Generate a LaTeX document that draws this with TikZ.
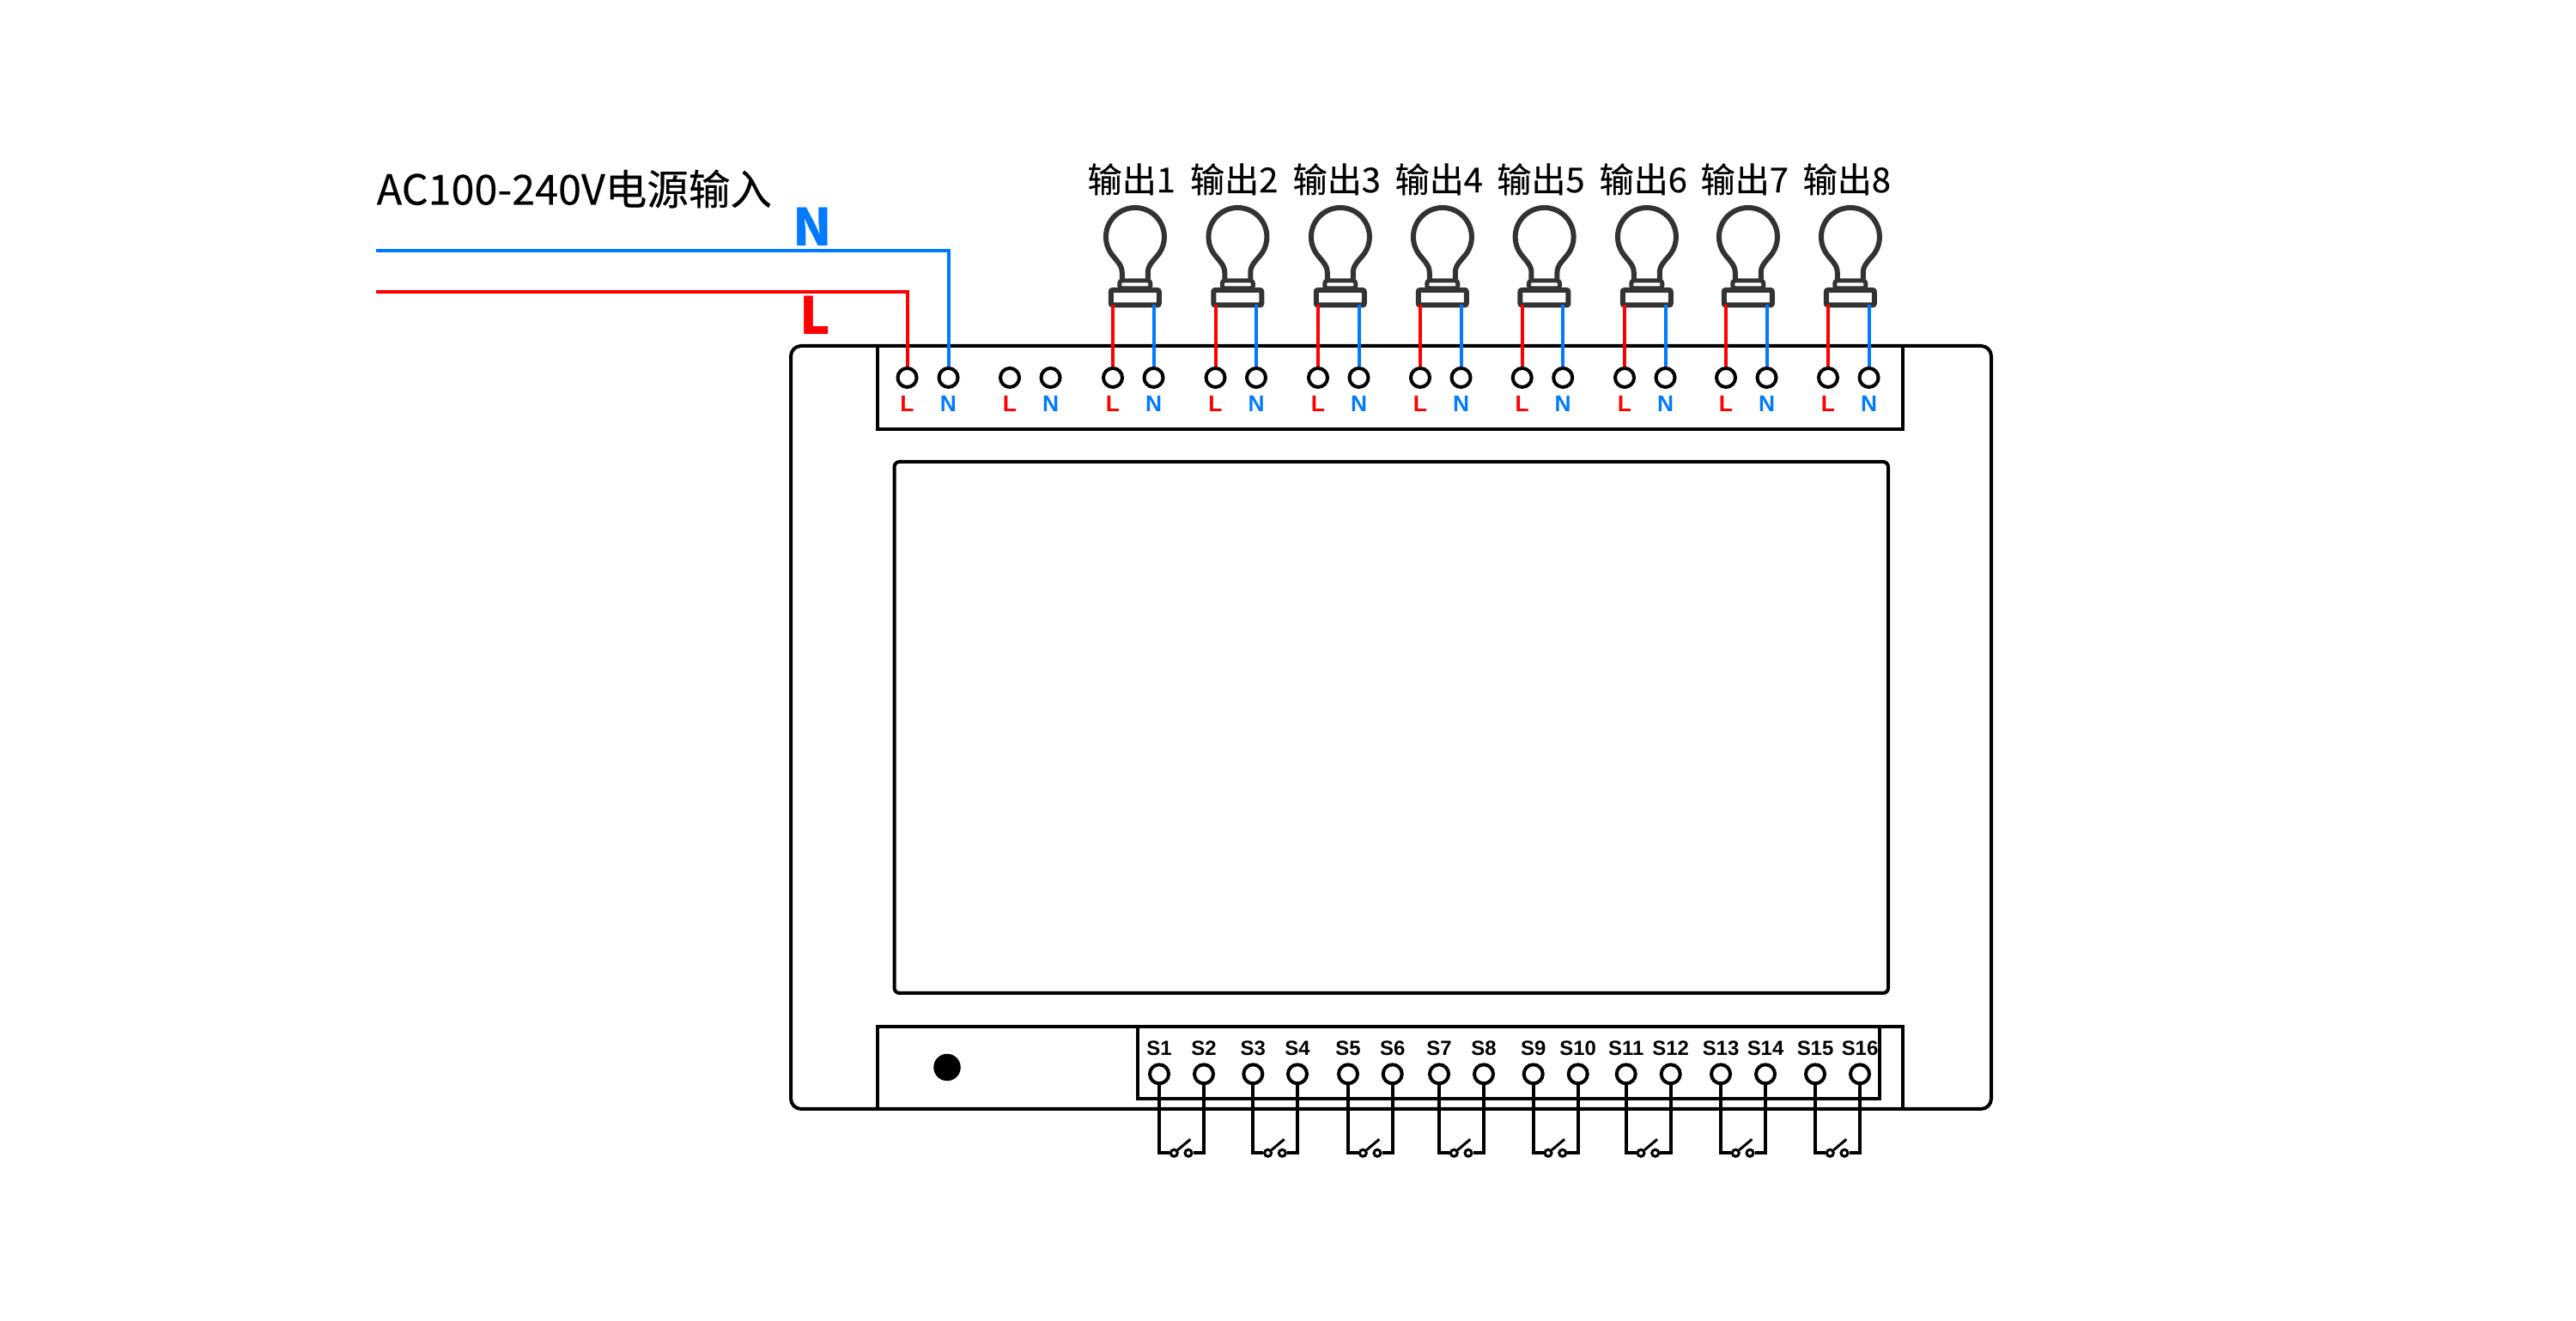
\documentclass[tikz,border=0pt]{standalone}
\usepackage{fontspec}
\setmainfont{Noto Sans CJK SC}
\newfontfamily\labelfont[FakeBold=0.25]{Noto Sans CJK SC}
\newfontfamily\arialfont{Liberation Sans}
\usetikzlibrary{positioning,calc}
\definecolor{wireblue}{RGB}{0,122,255}
\definecolor{wirered}{RGB}{255,0,0}
\definecolor{bulbgray}{RGB}{51,51,51}
\tikzset{
  box/.style={draw, line width=0.04cm},
  wire/.style={line width=0.04cm},
  term/.style={circle, draw, line width=0.04cm, minimum size=0.22cm, inner sep=0pt, fill=white},
  contact/.style={circle, draw, line width=0.03cm, minimum size=0.08cm, inner sep=0pt, fill=white},
  redlbl/.style={text=wirered, font=\arialfont\fontsize{7.5}{8}\selectfont\bfseries, inner sep=0pt},
  bluelbl/.style={text=wireblue, font=\arialfont\fontsize{7.5}{8}\selectfont\bfseries, inner sep=0pt},
  slbl/.style={font=\arialfont\fontsize{6.8}{7}\selectfont\bfseries, inner sep=0pt},
  outlbl/.style={font=\labelfont\fontsize{11.4}{12}\selectfont, inner sep=0pt},
  bulb/.pic={
    \draw[bulbgray, line width=0.06cm] (-0.15,0.30) -- (-0.15,0.38) .. controls (-0.15,0.47) and (-0.22,0.52) .. (-0.28,0.605)
      arc[start angle=214, end angle=-34, radius=0.34]
      .. controls (0.22,0.52) and (0.15,0.47) .. (0.15,0.38) -- (0.15,0.30);
    \draw[bulbgray, line width=0.05cm, rounded corners=0.03cm] (-0.18,0.195) rectangle (0.18,0.285);
    \draw[bulbgray, line width=0.06cm, rounded corners=0.02cm] (-0.28,0) rectangle (0.28,0.175);
  }
}
\begin{document}
\begin{tikzpicture}[on grid]
\useasboundingbox (0,0) rectangle (30,15.39);
% housing
\draw[box, rounded corners=0.12cm] (9.21,2.47) rectangle (23.19,11.36);
\draw[box] (10.22,11.36) -- (10.22,10.39) -- (22.16,10.39) -- (22.16,11.36);
\draw[box] (10.22,2.47) -- (10.22,3.425) -- (22.16,3.425) -- (22.16,2.47);
\draw[box, rounded corners=0.06cm] (10.415,3.82) rectangle (21.99,10.01);
\draw[box] (13.25,2.59) rectangle (21.89,3.425);
\node[circle, fill=black, minimum size=0.315cm, inner sep=0pt] (dot) at (11.03,2.955) {};
% mains input
\node[anchor=west, font=\labelfont\fontsize{13.8}{14}\selectfont, inner sep=0pt] (title) at (4.38,13.19) {AC100-240V电源输入};
\node[text=wireblue, font=\fontsize{17}{18}\selectfont\bfseries, inner sep=0pt] (bigN) at (9.46,12.75) {N};
\node[text=wirered, font=\fontsize{17}{18}\selectfont\bfseries, inner sep=0pt] (bigL) at (9.49,11.72) {L};
\coordinate (nIn) at (4.38,12.47);
\coordinate (lIn) at (4.38,11.99);
% top terminals
\node[term] (L0) at (10.565,10.99) {};
\node[term] (N0) at (11.045,10.99) {};
\node[term] (Lx) at (11.76,10.99) {};
\node[term] (Nx) at (12.235,10.99) {};
\foreach \a/\b in {L0/N0, Lx/Nx} {
  \node[redlbl, below=0.30cm of \a] (\a t) {L};
  \node[bluelbl, below=0.30cm of \b] (\b t) {N};
}
\draw[wire, wirered] (lIn) -| (L0);
\draw[wire, wireblue] (nIn) -| (N0);
% outputs with lamps
\foreach \i/\x in {1/12.96,2/14.155,3/15.35,4/16.54,5/17.727,6/18.92,7/20.10,8/21.29} {
  \node[term] (L\i) at (\x,10.99) {};
  \node[term, right=0.475cm of L\i] (N\i) {};
  \node[redlbl, below=0.30cm of L\i] (L\i t) {L};
  \node[bluelbl, below=0.30cm of N\i] (N\i t) {N};
  \coordinate (B\i) at ($(L\i)!0.5!(N\i)$);
  \pic[xshift=0.02cm] at (B\i |- 0,11.835) {bulb};
  \node[outlbl, above=2.12cm of B\i, xshift=-0.02cm] (out\i) {输出\i};
  \draw[wire, wirered] (L\i) -- (L\i |- 0,11.835);
  \draw[wire, wireblue] (N\i) -- (N\i |- 0,11.835);
}
% switch inputs
\foreach \a/\b/\xa/\xb in {1/2/13.50/14.02,3/4/14.593/15.11,5/6/15.70/16.217,7/8/16.76/17.28,9/10/17.857/18.377,11/12/18.937/19.457,13/14/20.04/20.56,15/16/21.14/21.66} {
  \node[term] (S\a) at (\xa,2.877) {};
  \node[term] (S\b) at (\xb,2.877) {};
  \node[slbl, above=0.30cm of S\a] (S\a t) {S\a};
  \node[slbl, above=0.30cm of S\b] (S\b t) {S\b};
  \node[contact] (K\a) at (\xa+0.173,1.957) {};
  \node[contact, right=0.167cm of K\a] (K\b) {};
  \coordinate (Q\a) at ($(K\a)+(0.19,0.16)$);
  \draw[wire] (S\a) |- (K\a);
  \draw[wire] (S\b) |- (K\b);
  \draw[wire, line width=0.03cm] (K\a) -- (Q\a);
}
\end{tikzpicture}
\end{document}
